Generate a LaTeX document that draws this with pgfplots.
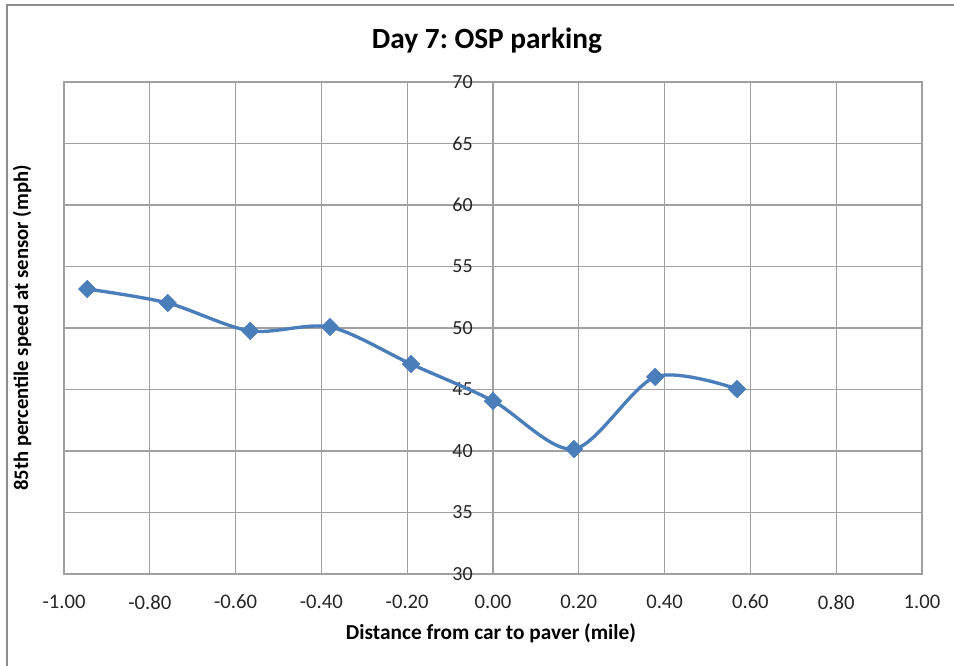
\documentclass[border=0pt]{standalone}
\usepackage{pgfplots}
\pgfplotsset{compat=1.18}
\usepackage{fontspec}
\setmainfont{Carlito}
\frenchspacing
\definecolor{serblue}{HTML}{4A7EBB}
\definecolor{gridgray}{HTML}{A0A0A0}
\definecolor{framegray}{HTML}{8C8C8C}
\begin{document}
\begin{tikzpicture}
\path[use as bounding box] (-48pt,-69pt) rectangle (667.5pt,430.5pt);
\draw[framegray, line width=1.4pt] (-42.75pt,-70pt) -- (-42.75pt,426.75pt) -- (668pt,426.75pt);
\begin{axis}[
  at={(0,0)}, anchor=south west,
  scale only axis, width=643.5pt, height=369pt,
  xmin=-1, xmax=1, ymin=30, ymax=70,
  xtick={-1,-0.8,...,1.01}, ytick={30,35,...,70},
  grid=major,
  major grid style={gridgray, line width=0.9pt},
  axis line style={gridgray, line width=0.9pt},
  major tick length=0pt,
  /pgf/number format/assume math mode=true,
  xticklabel={\pgfmathprintnumber[fixed,precision=2,zerofill]{\tick}},
  xticklabel style={font=\fontsize{15.5}{18}\selectfont, inner sep=0pt, yshift=-15.5pt, text=black!85},
  yticklabel style={font=\fontsize{15}{18}\selectfont, anchor=east, inner sep=0pt, xshift=306.75pt, text=black!85},
  title={Day 7: OSP parking},
  title style={at={(rel axis cs:0.493,1.067)}, anchor=center, font=\fontsize{22}{26}\bfseries},
  xlabel={Distance from car to paver (mile)},
  every axis x label/.style={at={(rel axis cs:0.4977,-0.12)}, anchor=center, font=\fontsize{16}{19}\selectfont\bfseries},
  ylabel={85th percentile speed at sensor (mph)},
  every axis y label/.style={at={(rel axis cs:-0.04895,0.5)}, anchor=center, rotate=90, font=\fontsize{15.5}{18}\selectfont\bfseries},
  clip=false,
]
\addplot[serblue, line width=2.5pt, smooth, tension=0.5,
  mark=square*, mark size=4.6pt, mark options={rotate=45, fill=serblue, draw=serblue, line width=0.5pt}]
  coordinates {
  (-0.946,53.17) (-0.758,52.03) (-0.566,49.76) (-0.380,50.08) (-0.191,47.07)
  (0.000,44.07) (0.189,40.16) (0.378,46.02) (0.569,45.04)
  };
\end{axis}
\end{tikzpicture}
\end{document}
